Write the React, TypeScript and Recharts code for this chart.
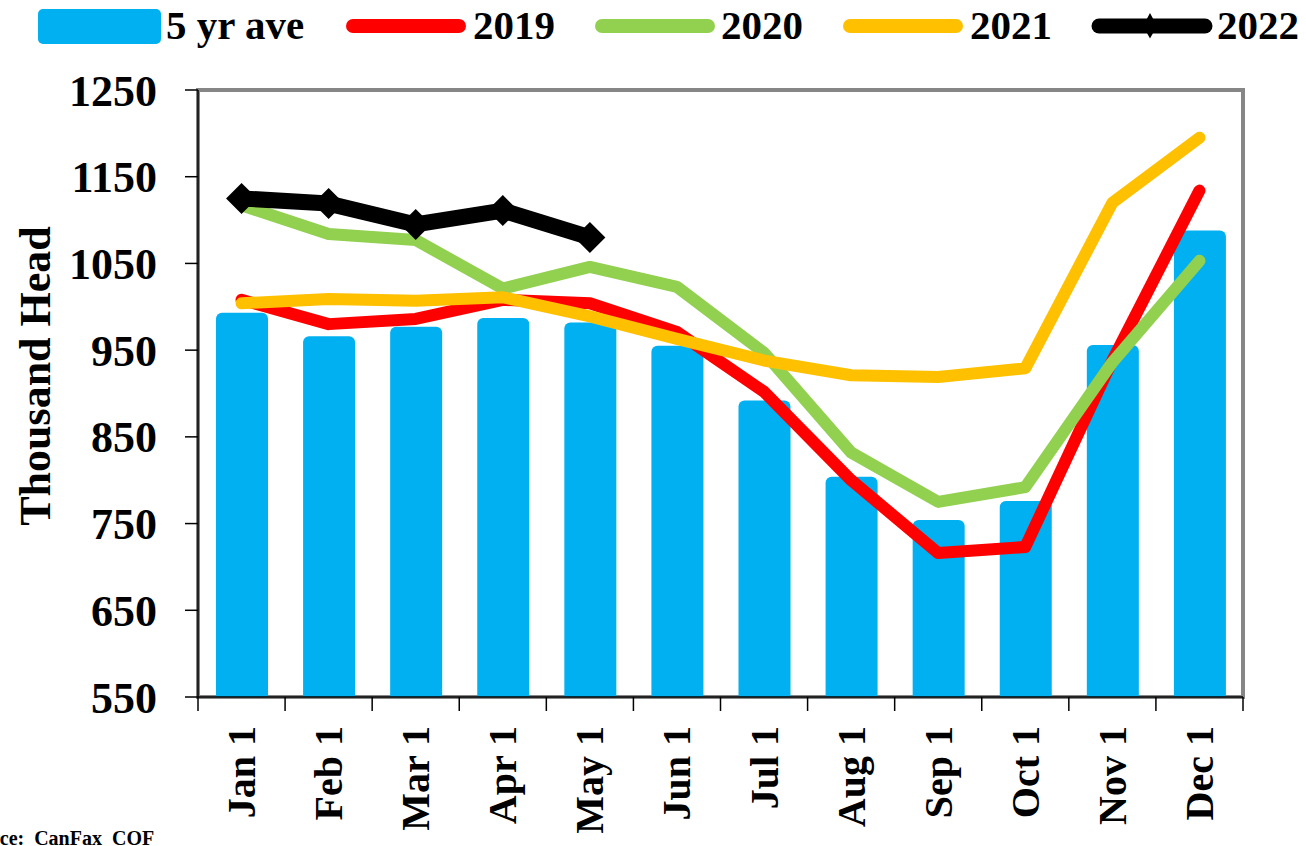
import React from 'react';
import { ComposedChart, Bar, Line, XAxis, YAxis, ReferenceArea } from 'recharts';

const months = ['Jan 1', 'Feb 1', 'Mar 1', 'Apr 1', 'May 1', 'Jun 1', 'Jul 1', 'Aug 1', 'Sep 1', 'Oct 1', 'Nov 1', 'Dec 1'];
const fiveYearAve = [993, 966, 977, 987, 982, 955, 892, 804, 754, 776, 956, 1088];
const y2019 = [1008, 980, 986, 1008, 1004, 971, 902, 800, 716, 723, 938, 1134];
const y2020 = [1117, 1084, 1077, 1021, 1046, 1023, 947, 832, 775, 792, 936, 1053];
const y2021 = [1004, 1009, 1007, 1011, 989, 963, 938, 921, 919, 929, 1120, 1195];
const y2022 = [1125, 1119, 1095, 1111, 1080];
const yTicks = [550, 650, 750, 850, 950, 1050, 1150, 1250];

const seriesNames = ['5 yr ave', '2019', '2020', '2021', '2022'];
const COLORS = { ave: '#00B0F0', y2019: '#FF0000', y2020: '#92D050', y2021: '#FFC000', y2022: '#000000' };
const FONT = "'Liberation Serif', 'Times New Roman', serif";

const W = 1306;
const H = 846;
const M = { top: 90, right: 63, left: 0, bottom: 0 };
const Y_AXIS_W = 198;
const X_AXIS_H = 149;
const BAND = (W - M.right - Y_AXIS_W) / months.length;

const data = months.map((m, i) => ({
  month: m,
  ave: fiveYearAve[i],
  y2019: y2019[i],
  y2020: y2020[i],
  y2021: y2021[i],
  y2022: i < y2022.length ? y2022[i] : null,
}));

const XTick = (props: any) => {
  const { x, y, payload, index } = props;
  const half = BAND / 2;
  return (
    <g>
      <line x1={x - half} x2={x - half} y1={y} y2={y + 14} stroke="#000" strokeWidth={1.5} />
      {index === months.length - 1 && (
        <line x1={x + half} x2={x + half} y1={y} y2={y + 14} stroke="#000" strokeWidth={1.5} />
      )}
      <g transform={`translate(${x},${y})`}>
        <text
          transform="rotate(-90)"
          x={-29}
          y={0}
          textAnchor="end"
          dominantBaseline="central"
          fill="#000"
          fontSize={40}
          fontWeight={700}
          fontFamily={FONT}
        >
          {payload.value}
        </text>
      </g>
    </g>
  );
};

const Diamond = (props: any) => {
  const { cx, cy, index } = props;
  if (cx == null || cy == null || props.value == null) return <g key={`d-${index}`} />;
  const r = 15.5;
  return (
    <polygon
      key={`d-${index}`}
      points={`${cx},${cy - r} ${cx + r},${cy} ${cx},${cy + r} ${cx - r},${cy}`}
      fill="#000"
    />
  );
};

const YLabel = () => (
  <text
    x={35}
    y={376}
    transform="rotate(-90, 35, 376)"
    textAnchor="middle"
    dominantBaseline="central"
    fill="#000"
    fontSize={44}
    fontWeight={700}
    fontFamily={FONT}
  >
    Thousand Head
  </text>
);

const LegendOverlay = () => {
  const ty = 39;
  const ly = 26;
  const lineItem = (x1: number, color: string, w: number) => (
    <line x1={x1 + 7} x2={x1 + 120 - 7} y1={ly} y2={ly} stroke={color} strokeWidth={w} strokeLinecap="round" />
  );
  const txt = (x: number, s: string) => (
    <text x={x} y={ty} fontSize={41} fontWeight={700} fontFamily={FONT} fill="#000">
      {s}
    </text>
  );
  return (
    <svg width={W} height={60} style={{ position: 'absolute', left: 0, top: 0 }}>
      <rect x={38} y={9} width={123} height={35} rx={5} fill={COLORS.ave} />
      {txt(166, seriesNames[0])}
      {lineItem(346, COLORS.y2019, 14)}
      {txt(473, seriesNames[1])}
      {lineItem(595, COLORS.y2020, 14)}
      {txt(721, seriesNames[2])}
      {lineItem(843, COLORS.y2021, 14)}
      {txt(970, seriesNames[3])}
      {lineItem(1092, COLORS.y2022, 15)}
      <polygon points={`1150,13 1157,26 1150,38.5 1143,26`} fill="#000" />
      {txt(1217, seriesNames[4])}
    </svg>
  );
};

export default function App() {
  return (
    <div style={{ position: 'absolute', left: 0, top: 0, width: W, height: H, overflow: 'hidden', background: '#fff' }}>
      <ComposedChart width={W} height={H} data={data} margin={M}>
        <ReferenceArea y1={550} y2={1250} fill="none" stroke="#868686" strokeWidth={4} ifOverflow="visible" />
        <XAxis
          dataKey="month"
          height={X_AXIS_H}
          interval={0}
          tickSize={0}
          tickMargin={0}
          tickLine={false}
          axisLine={{ stroke: '#000', strokeWidth: 1.5 }}
          tick={<XTick />}
        />
        <YAxis
          width={Y_AXIS_W}
          domain={[550, 1250]}
          ticks={yTicks}
          interval={0}
          tickSize={13}
          tickMargin={28}
          axisLine={{ stroke: '#000', strokeWidth: 1.5 }}
          tickLine={{ stroke: '#000', strokeWidth: 1.5 }}
          tick={{ fill: '#000', fontSize: 44, fontWeight: 700, fontFamily: FONT }}
          label={{ value: 'Thousand Head', content: YLabel }}
        />
        <Bar dataKey="ave" name={seriesNames[0]} fill={COLORS.ave} barSize={52} radius={[6, 6, 0, 0]} isAnimationActive={false} />
        <Line dataKey="y2019" name={seriesNames[1]} stroke={COLORS.y2019} strokeWidth={12} dot={false} strokeLinecap="round" strokeLinejoin="round" isAnimationActive={false} />
        <Line dataKey="y2020" name={seriesNames[2]} stroke={COLORS.y2020} strokeWidth={12} dot={false} strokeLinecap="round" strokeLinejoin="round" isAnimationActive={false} />
        <Line dataKey="y2021" name={seriesNames[3]} stroke={COLORS.y2021} strokeWidth={12} dot={false} strokeLinecap="round" strokeLinejoin="round" isAnimationActive={false} />
        <Line dataKey="y2022" name={seriesNames[4]} stroke={COLORS.y2022} strokeWidth={16} dot={<Diamond />} activeDot={false} strokeLinecap="round" strokeLinejoin="round" isAnimationActive={false} />
      </ComposedChart>
      <LegendOverlay />
      <div
        style={{
          position: 'absolute',
          left: -41,
          top: 828,
          fontFamily: FONT,
          fontSize: 20,
          fontWeight: 700,
          lineHeight: 1,
          whiteSpace: 'pre',
          color: '#000',
        }}
      >
        Source:  CanFax  COF
      </div>
    </div>
  );
}
